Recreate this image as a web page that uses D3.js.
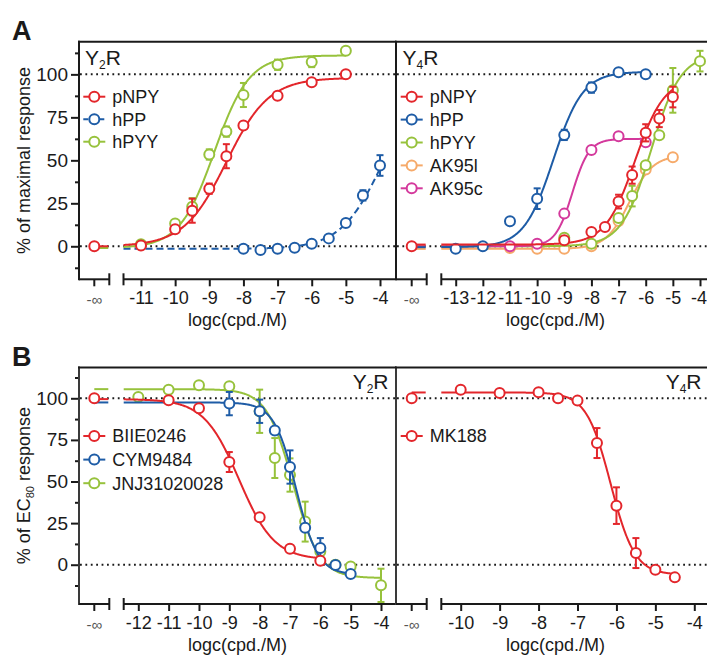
<!DOCTYPE html>
<html><head><meta charset="utf-8">
<script src="https://cdnjs.cloudflare.com/ajax/libs/d3/7.8.5/d3.min.js"></script>
<style>
body{margin:0;background:#fff}
svg{display:block}
text{font-family:"Liberation Sans",Arial,Helvetica,sans-serif;fill:#1a1a1a}
</style>
</head><body>
<svg id="chart" width="707" height="657"></svg>
<script>
// ---------------- DATA ----------------
// Colours
const colors = {red:"#e3262b", blue:"#1e5ca6", green:"#97c23c", orange:"#f6aa6a", magenta:"#d4399c"};

// Tick labels
const ticksA_Y2 = [-11,-10,-9,-8,-7,-6,-5,-4];
const ticksA_Y4 = [-13,-12,-11,-10,-9,-8,-7,-6,-5,-4];
const ticksB_Y2 = [-12,-11,-10,-9,-8,-7,-6,-5,-4];
const ticksB_Y4 = [-10,-9,-8,-7,-6,-5,-4];
const yMajor = [0,25,50,75,100];
const yMinor = [-12.5,12.5,37.5,62.5,87.5,112.5];

// Panel A, Y2R  (logc, % response, SEM); fit = [plateau low conc, plateau high conc, logEC50, hill]
const a2_pNPY_x = [-11,-10,-9.5,-9,-8.5,-8,-7,-6,-5];
const a2_pNPY_y = [0.5,9.9,20.7,33.5,52.4,70.2,87.6,95.4,100];
const a2_pNPY_e = [0,0,7,3,7,0,0,0,0];
const a2_pNPY_fit = [0,98,-8.5,0.7];
const a2_pNPY_inf = 0;

const a2_hPP_x = [-8,-7.5,-7,-6.5,-6,-5.5,-5,-4.5,-4];
const a2_hPP_y = [-1.4,-2.1,-1.4,-0.8,1.5,4.6,13.5,29.6,47];
const a2_hPP_e = [0,0,0,0,0,0,0,3,6];
const a2_hPP_fit = [-1.5,100,-3.9,0.7];

const a2_hPYY_x = [-11,-10,-9.5,-9,-8.5,-8,-7,-6,-5];
const a2_hPYY_y = [1.2,13.3,23,53.4,66.7,88,105.6,107.2,113.7];
const a2_hPYY_e = [0,0,5,3,3,7,3,3,0];
const a2_hPYY_fit = [-1,111,-8.85,0.85];

// Panel A, Y4R
const a4_pNPY_x = [-9,-8,-7.5,-7,-6.5,-6,-5.5,-5];
const a4_pNPY_y = [3.5,8.3,11.2,26,41.4,66,74.3,86.8];
const a4_pNPY_e = [0,0,0,4,5,5,5,6];
const a4_pNPY_fit = [1,98,-6.4,0.8];
const a4_pNPY_inf = 0;

const a4_hPP_x = [-13,-12,-11,-10,-9,-8,-7,-6];
const a4_hPP_y = [-1.4,0,14.5,27.7,64.8,92.3,101.2,100];
const a4_hPP_e = [0,0,0,6,3,3,0,0];
const a4_hPP_fit = [-0.5,101.5,-9.4,0.8];

const a4_hPYY_x = [-9,-8,-7,-6.5,-6,-5.5,-5,-4];
const a4_hPYY_y = [5,1.5,16.4,29.2,47.2,64.6,90.7,107.7];
const a4_hPYY_e = [0,0,0,6,0,0,13,6];
const a4_hPYY_fit = [0,112,-5.8,0.8];

const a4_AK95l_x = [-11,-10,-9,-8,-7,-6,-5];
const a4_AK95l_y = [-1,-1.4,-1.4,0,14.7,44.7,51.8];
const a4_AK95l_e = [0,0,0,0,0,0,0];
const a4_AK95l_fit = [-1.5,53,-6.6,1.0];

const a4_AK95c_x = [-11,-10,-9,-8,-7,-6];
const a4_AK95c_y = [0,1.5,19,56,64,60.5];
const a4_AK95c_e = [0,0,0,0,0,0];
const a4_AK95c_fit = [0,62.5,-8.7,1.4];

// Panel B, Y2R (antagonists)
const b2_BIIE_x = [-11,-10,-9,-8,-7,-6];
const b2_BIIE_y = [98.8,94,61.7,28.5,9.6,2.4];
const b2_BIIE_e = [0,0,6,0,0,0];
const b2_BIIE_fit = [99.5,3,-8.68,0.75];
const b2_BIIE_inf = 100;

const b2_CYM_x = [-9,-8,-7.5,-7,-6.5,-6,-5.5,-5];
const b2_CYM_y = [96.8,92.2,80.6,58.7,22.2,10,-0.2,-5.6];
const b2_CYM_e = [7,7,0,10,0,6,0,0];
const b2_CYM_fit = [97.5,-6,-6.8,1.2];

const b2_JNJ_x = [-12,-11,-10,-9,-8,-7.5,-7,-6.5,-6,-5.5,-5,-4];
const b2_JNJ_y = [100.8,105.2,107.8,107.2,92.2,64.1,53.9,25.9,8,0,-1,-12.4];
const b2_JNJ_e = [0,0,0,0,13,12,10,12,0,0,0,10];
const b2_JNJ_fit = [105.5,-8,-6.9,1.0];

// Panel B, Y4R
const b4_MK188_x = [-10,-9,-8,-7.5,-7,-6.5,-6,-5.5,-5,-4.5];
const b4_MK188_y = [105.2,103.2,103.6,100,98.6,73.1,35.5,7,-3,-7.6];
const b4_MK188_e = [0,1.5,2,0,0,9,11,9,0,0];
const b4_MK188_fit = [103.5,-6,-6.15,1.4];
const b4_MK188_inf = 100;

// ---------------- DRAW ----------------
const svg = d3.select("#chart");
const FONT = 18;
const W = 707;

function mkSeries(name,color,xs,ys,es,fit,opts){
  return Object.assign({name,color,xs,ys,es,fit,dash:null,inf:null,seg:true},opts||{});
}

function fitVal(f,x){ return f[0] + (f[1]-f[0])/(1+Math.pow(10,f[3]*(f[2]-x))); }

function drawPanel(P){
  const g = svg.append("g");
  const x = d3.scaleLinear().domain(P.xDom).range(P.xRng);
  const y = d3.scaleLinear().domain(P.yDom).range(P.yRng);
  const top = P.frameTop, bot = P.axisY;

  // dotted reference lines
  [0,100].forEach(v=>{
    g.append("line").attr("x1",P.dotX[0]).attr("x2",P.dotX[1])
      .attr("y1",y(v)).attr("y2",y(v))
      .attr("stroke","#1a1a1a").attr("stroke-width",2).attr("stroke-dasharray","1.8,3.6");
  });

  // series
  P.order.forEach(s=>{
    const sg = g.append("g");
    if(s.seg){
      sg.append("line").attr("x1",P.xInf).attr("x2",P.seg1[1]-1)
        .attr("y1",y(s.fit[0])).attr("y2",y(s.fit[0]))
        .attr("stroke",s.color).attr("stroke-width",2)
        .attr("stroke-dasharray",s.dash);
    }
    const x0 = x.invert(P.seg2[0]);
    const x1 = s.xs[s.xs.length-1];
    const pts = d3.range(x0, x1+0.0001, 0.02).concat([x1]).map(v=>[v,fitVal(s.fit,v)]);
    sg.append("path").datum(pts)
      .attr("d",d3.line().x(d=>x(d[0])).y(d=>y(d[1])))
      .attr("fill","none").attr("stroke",s.color).attr("stroke-width",2)
      .attr("stroke-dasharray",s.dash);
    s.xs.forEach((xv,i)=>{
      const e = s.es[i]; if(!e) return;
      const cx = x(xv), yl = y(s.ys[i]-e), yh = y(s.ys[i]+e);
      sg.append("line").attr("x1",cx).attr("x2",cx).attr("y1",yl).attr("y2",yh)
        .attr("stroke",s.color).attr("stroke-width",2);
      [yl,yh].forEach(yy=>sg.append("line").attr("x1",cx-3.5).attr("x2",cx+3.5)
        .attr("y1",yy).attr("y2",yy).attr("stroke",s.color).attr("stroke-width",2));
    });
    sg.selectAll("circle.pt").data(s.xs.map((xv,i)=>[xv,s.ys[i]])).enter()
      .append("circle").attr("cx",d=>x(d[0])).attr("cy",d=>y(d[1])).attr("r",5)
      .attr("fill","#fff").attr("stroke",s.color).attr("stroke-width",2);
    if(s.inf!==null){
      sg.append("circle").attr("cx",P.xInf).attr("cy",y(s.inf)).attr("r",5)
        .attr("fill","#fff").attr("stroke",s.color).attr("stroke-width",2);
    }
  });

  // frame
  g.append("line").attr("x1",P.frameLeft).attr("x2",P.frameLeft).attr("y1",top-1).attr("y2",bot+1)
    .attr("stroke",P.vColor).attr("stroke-width",2);
  g.append("line").attr("x1",P.frameLeft-1).attr("x2",P.frameRight).attr("y1",top).attr("y2",top)
    .attr("stroke","#1a1a1a").attr("stroke-width",2);

  // x axis with break
  const ax = g.append("g").attr("transform",`translate(0,${bot})`)
    .call(d3.axisBottom(x).tickValues(P.ticks).tickSize(7).tickPadding(5).tickFormat(d3.format("d")));
  ax.select(".domain").remove();
  ax.selectAll(".tick line").attr("stroke","#1a1a1a").attr("stroke-width",2);
  ax.selectAll(".tick text").attr("font-size",FONT).attr("fill","#1a1a1a")
    .attr("font-family",'"Liberation Sans",Arial,sans-serif')
    .text(d=>"-"+Math.abs(d));
  // keep the last label inside the page edge
  ax.selectAll(".tick").each(function(d){
    const tr = this.getAttribute("transform");
    const tx = x(d);
    if(tx + 9 > W){
      d3.select(this).select("text").attr("text-anchor","end").attr("x", W - 0.5 - tx);
    }
  });
  [P.seg1,P.seg2].forEach(sgm=>{
    g.append("line").attr("x1",sgm[0]).attr("x2",sgm[1]).attr("y1",bot).attr("y2",bot)
      .attr("stroke","#1a1a1a").attr("stroke-width",2);
  });
  [P.seg1[1],P.seg2[0]].forEach(bx=>{
    g.append("line").attr("x1",bx).attr("x2",bx).attr("y1",bot-6).attr("y2",bot+6)
      .attr("stroke","#1a1a1a").attr("stroke-width",2);
  });
  g.append("line").attr("x1",P.xInf).attr("x2",P.xInf).attr("y1",bot).attr("y2",bot+7)
    .attr("stroke","#1a1a1a").attr("stroke-width",2);
  g.append("text").attr("x",P.xInf).attr("y",bot+26).attr("text-anchor","middle")
    .attr("font-size",15).style("fill","#555").text("-\u221E");

  g.append("text").attr("x",P.xLabelX).attr("y",bot+47).attr("text-anchor","middle")
    .attr("font-size",FONT).text("logc(cpd./M)");

  const rl = g.append("text").attr("x",P.recX).attr("y",P.recY)
    .attr("text-anchor",P.recAnchor).attr("font-size",21);
  rl.append("tspan").text("Y");
  rl.append("tspan").attr("font-size",12).attr("dy",4).text(P.recSub);
  rl.append("tspan").attr("dy",-4).text("R");

  P.legend.forEach((s,i)=>{
    const ly = P.legY + i*P.legDy, lx = P.legX;
    g.append("line").attr("x1",lx-11).attr("x2",lx+11).attr("y1",ly).attr("y2",ly)
      .attr("stroke",s.color).attr("stroke-width",2).attr("stroke-dasharray",s.dash?"5,3":null);
    g.append("circle").attr("cx",lx).attr("cy",ly).attr("r",5)
      .attr("fill","#fff").attr("stroke",s.color).attr("stroke-width",2);
    g.append("text").attr("x",lx+18).attr("y",ly).attr("dy","0.36em")
      .attr("font-size",FONT).text(s.name);
  });
  return {x,y,g};
}

function drawYAxis(yDom,yRng,frameLeft,labelCY,labelNodes){
  const y = d3.scaleLinear().domain(yDom).range(yRng);
  const ax = svg.append("g").attr("transform",`translate(${frameLeft},0)`)
    .call(d3.axisLeft(y).tickValues(yMajor).tickSize(8).tickPadding(3));
  ax.select(".domain").remove();
  ax.selectAll(".tick line").attr("stroke","#1a1a1a").attr("stroke-width",2);
  ax.selectAll(".tick text").attr("font-size",19).attr("fill","#1a1a1a")
    .attr("font-family",'"Liberation Sans",Arial,sans-serif');
  const mn = svg.append("g").attr("transform",`translate(${frameLeft},0)`)
    .call(d3.axisLeft(y).tickValues(yMinor).tickSize(4).tickFormat(""));
  mn.select(".domain").remove();
  mn.selectAll(".tick line").attr("stroke","#1a1a1a").attr("stroke-width",2);
  const t = svg.append("text").attr("transform",`translate(30,${labelCY}) rotate(-90)`)
    .attr("text-anchor","middle").attr("font-size",FONT);
  labelNodes(t);
}

// -------- Panel A --------
const yA_dom = [-19.2,119], yA_rng = [279.3,41.7];
drawYAxis(yA_dom,yA_rng,79,160.5,t=>t.text("% of maximal response"));

const a2_pNPY = mkSeries("pNPY",colors.red,a2_pNPY_x,a2_pNPY_y,a2_pNPY_e,a2_pNPY_fit,{inf:a2_pNPY_inf});
const a2_hPP  = mkSeries("hPP",colors.blue,a2_hPP_x,a2_hPP_y,a2_hPP_e,a2_hPP_fit,{dash:"7,4",seg:false});
const a2_hPYY = mkSeries("hPYY",colors.green,a2_hPYY_x,a2_hPYY_y,a2_hPYY_e,a2_hPYY_fit);

drawPanel({xDom:[-11,-4],xRng:[141,380],yDom:yA_dom,yRng:yA_rng,
  frameTop:41.7,axisY:279.3,frameLeft:79,frameRight:396,vColor:"#1a1a1a",
  dotX:[80,396],xInf:94.3,seg1:[79,109.3],seg2:[123.5,396],ticks:ticksA_Y2,
  xLabelX:237.5,recX:85,recY:65,recAnchor:"start",recSub:"2",
  order:[a2_hPP,a2_hPYY,a2_pNPY],legend:[a2_pNPY,a2_hPP,a2_hPYY],
  legX:94.3,legY:96.7,legDy:22.5});

const a4_pNPY = mkSeries("pNPY",colors.red,a4_pNPY_x,a4_pNPY_y,a4_pNPY_e,a4_pNPY_fit,{inf:a4_pNPY_inf});
const a4_hPP  = mkSeries("hPP",colors.blue,a4_hPP_x,a4_hPP_y,a4_hPP_e,a4_hPP_fit);
const a4_hPYY = mkSeries("hPYY",colors.green,a4_hPYY_x,a4_hPYY_y,a4_hPYY_e,a4_hPYY_fit);
const a4_AK95l = mkSeries("AK95l",colors.orange,a4_AK95l_x,a4_AK95l_y,a4_AK95l_e,a4_AK95l_fit);
const a4_AK95c = mkSeries("AK95c",colors.magenta,a4_AK95c_x,a4_AK95c_y,a4_AK95c_e,a4_AK95c_fit);

drawPanel({xDom:[-13,-4],xRng:[455.7,700],yDom:yA_dom,yRng:yA_rng,
  frameTop:41.7,axisY:279.3,frameLeft:396,frameRight:707,vColor:"#1a1a1a",
  dotX:[397,707],xInf:411.7,seg1:[396,426.7],seg2:[441.3,707],ticks:ticksA_Y4,
  xLabelX:555.5,recX:402.5,recY:65,recAnchor:"start",recSub:"4",
  order:[a4_AK95l,a4_hPYY,a4_AK95c,a4_hPP,a4_pNPY],
  legend:[a4_pNPY,a4_hPP,a4_hPYY,a4_AK95l,a4_AK95c],
  legX:411.7,legY:96.7,legDy:22.9});

// -------- Panel B --------
const yB_dom = [-23.6,118.5], yB_rng = [604,367.5];
drawYAxis(yB_dom,yB_rng,79,485.7,t=>{
  t.append("tspan").text("% of EC");
  t.append("tspan").attr("font-size",11).attr("dy",4).text("80");
  t.append("tspan").attr("dy",-4).text(" response");
});

const b2_BIIE = mkSeries("BIIE0246",colors.red,b2_BIIE_x,b2_BIIE_y,b2_BIIE_e,b2_BIIE_fit,{inf:b2_BIIE_inf});
const b2_CYM  = mkSeries("CYM9484",colors.blue,b2_CYM_x,b2_CYM_y,b2_CYM_e,b2_CYM_fit);
const b2_JNJ  = mkSeries("JNJ31020028",colors.green,b2_JNJ_x,b2_JNJ_y,b2_JNJ_e,b2_JNJ_fit);

drawPanel({xDom:[-12,-4],xRng:[138.3,381],yDom:yB_dom,yRng:yB_rng,
  frameTop:367.5,axisY:604,frameLeft:79,frameRight:396,vColor:"#3a3a3a",
  dotX:[80,396],xInf:94.3,seg1:[79,109.3],seg2:[123.7,396],ticks:ticksB_Y2,
  xLabelX:237.5,recX:388.5,recY:388.5,recAnchor:"end",recSub:"2",
  order:[b2_JNJ,b2_CYM,b2_BIIE],legend:[b2_BIIE,b2_CYM,b2_JNJ],
  legX:94.3,legY:436,legDy:23.6});

const b4_MK188 = mkSeries("MK188",colors.red,b4_MK188_x,b4_MK188_y,b4_MK188_e,b4_MK188_fit,{inf:b4_MK188_inf});

drawPanel({xDom:[-10,-4],xRng:[460.7,694.3],yDom:yB_dom,yRng:yB_rng,
  frameTop:367.5,axisY:604,frameLeft:396,frameRight:707,vColor:"#3a3a3a",
  dotX:[397,707],xInf:411.7,seg1:[396,426.7],seg2:[441.3,707],ticks:ticksB_Y4,
  xLabelX:555.5,recX:701.5,recY:388.5,recAnchor:"end",recSub:"4",
  order:[b4_MK188],legend:[b4_MK188],
  legX:411.7,legY:436,legDy:23.6});

// panel letters
svg.append("text").attr("x",12).attr("y",40).attr("font-size",27).attr("font-weight","bold").text("A");
svg.append("text").attr("x",12).attr("y",366).attr("font-size",27).attr("font-weight","bold").text("B");
</script>
</body></html>
